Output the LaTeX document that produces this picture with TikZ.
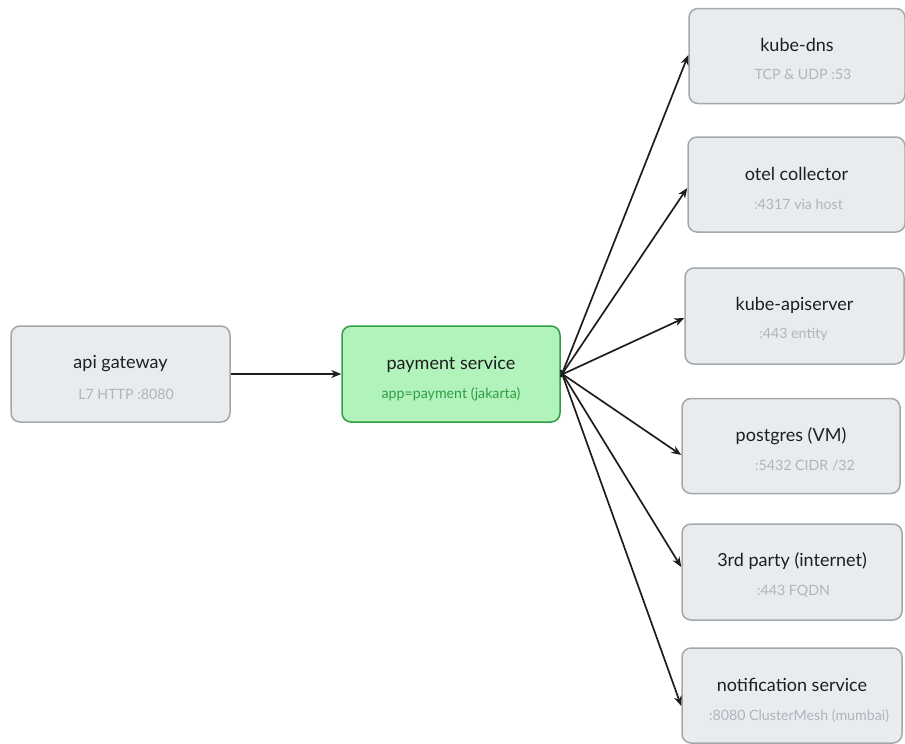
\documentclass[tikz,border=0pt]{standalone}
\usepackage{fontspec}
\setmainfont{Lato}
\usetikzlibrary{arrows.meta}
\definecolor{boxfill}{HTML}{E9ECEF}
\definecolor{boxline}{HTML}{A5A8AB}
\definecolor{subgray}{HTML}{ADB5BD}
\definecolor{grfill}{HTML}{B2F2BB}
\definecolor{grline}{HTML}{2F9E44}
\definecolor{arr}{HTML}{1E1E1E}
\tikzset{
  svc/.style={draw=boxline, fill=boxfill, line width=1.5pt, rounded corners=9pt, minimum width=218pt, minimum height=95pt},
  green svc/.style={svc, draw=grline, fill=grfill},
  ttl/.style={font=\fontsize{18}{20}\selectfont, text=arr},
  sub/.style={font=\fontsize{14.2}{16}\selectfont, text=subgray},
  conn/.style={draw=arr, line width=1.7pt, -{Stealth[length=10pt,width=8pt]}}
}
\begin{document}
\begin{tikzpicture}[x=1pt,y=-1pt]
\useasboundingbox (0,0) rectangle (905,744);
% boxes
\node[svc, minimum width=219pt, minimum height=96pt] (gw) at (120.5,374) {};
\node[green svc, minimum width=218pt, minimum height=96pt] (pay) at (451,374) {};
\node[svc, minimum width=216pt] (dns) at (797,56) {};
\node[svc, minimum width=217pt] (otel) at (796.5,184.5) {};
\node[svc, minimum width=219pt, minimum height=96pt] (api) at (794.5,316) {};
\node[svc] (pg) at (791,446) {};
\node[svc, minimum width=220pt, minimum height=96pt] (tp) at (792,572) {};
\node[svc, minimum width=220pt] (ns) at (792,695.5) {};
% texts
\node[ttl] (gwt) at (120.5,364) {api gateway};
\node[sub] (gws) at (126,394) {L7 HTTP :8080};
\node[ttl] (payt) at (451,364) {payment service};
\node[sub, text=grline] (pays) at (451,394) {app=payment (jakarta)};
\node[ttl] (dnst) at (797,45) {kube-dns};
\node[sub] (dnss) at (803,74) {TCP \& UDP :53};
\node[ttl] (otelt) at (796.5,174) {otel collector};
\node[sub] (otels) at (798.5,204) {:4317 via host};
\node[ttl] (apit) at (794.5,305) {kube-apiserver};
\node[sub] (apis) at (793.5,335) {:443 entity};
\node[ttl] (pgt) at (791,436) {postgres (VM)};
\node[sub] (pgs) at (805,466) {:5432 CIDR /32};
\node[ttl] (tpt) at (792,561) {3rd party (internet)};
\node[sub] (tps) at (793.5,591) {:443 FQDN};
\node[ttl] (nst) at (792,685) {notification service};
\node[sub] (nss) at (799,716) {:8080 ClusterMesh (mumbai)};
% connectors
\draw[conn] (gw.east) -- (pay.west);
\draw[conn] ([yshift=-3pt]pay.east) -- (dns.west |- 0,55);
\draw[conn] ([yshift=-2pt]pay.east) -- (otel.west |- 0,188);
\draw[conn] ([yshift=-1pt]pay.east) -- (api.west |- 0,318);
\draw[conn] ([yshift=1pt]pay.east) -- (pg.west |- 0,455);
\draw[conn] ([yshift=3pt]pay.east) -- (tp.west |- 0,567);
\draw[conn] ([yshift=4pt]pay.east) -- (ns.west |- 0,706);
\end{tikzpicture}
\end{document}
